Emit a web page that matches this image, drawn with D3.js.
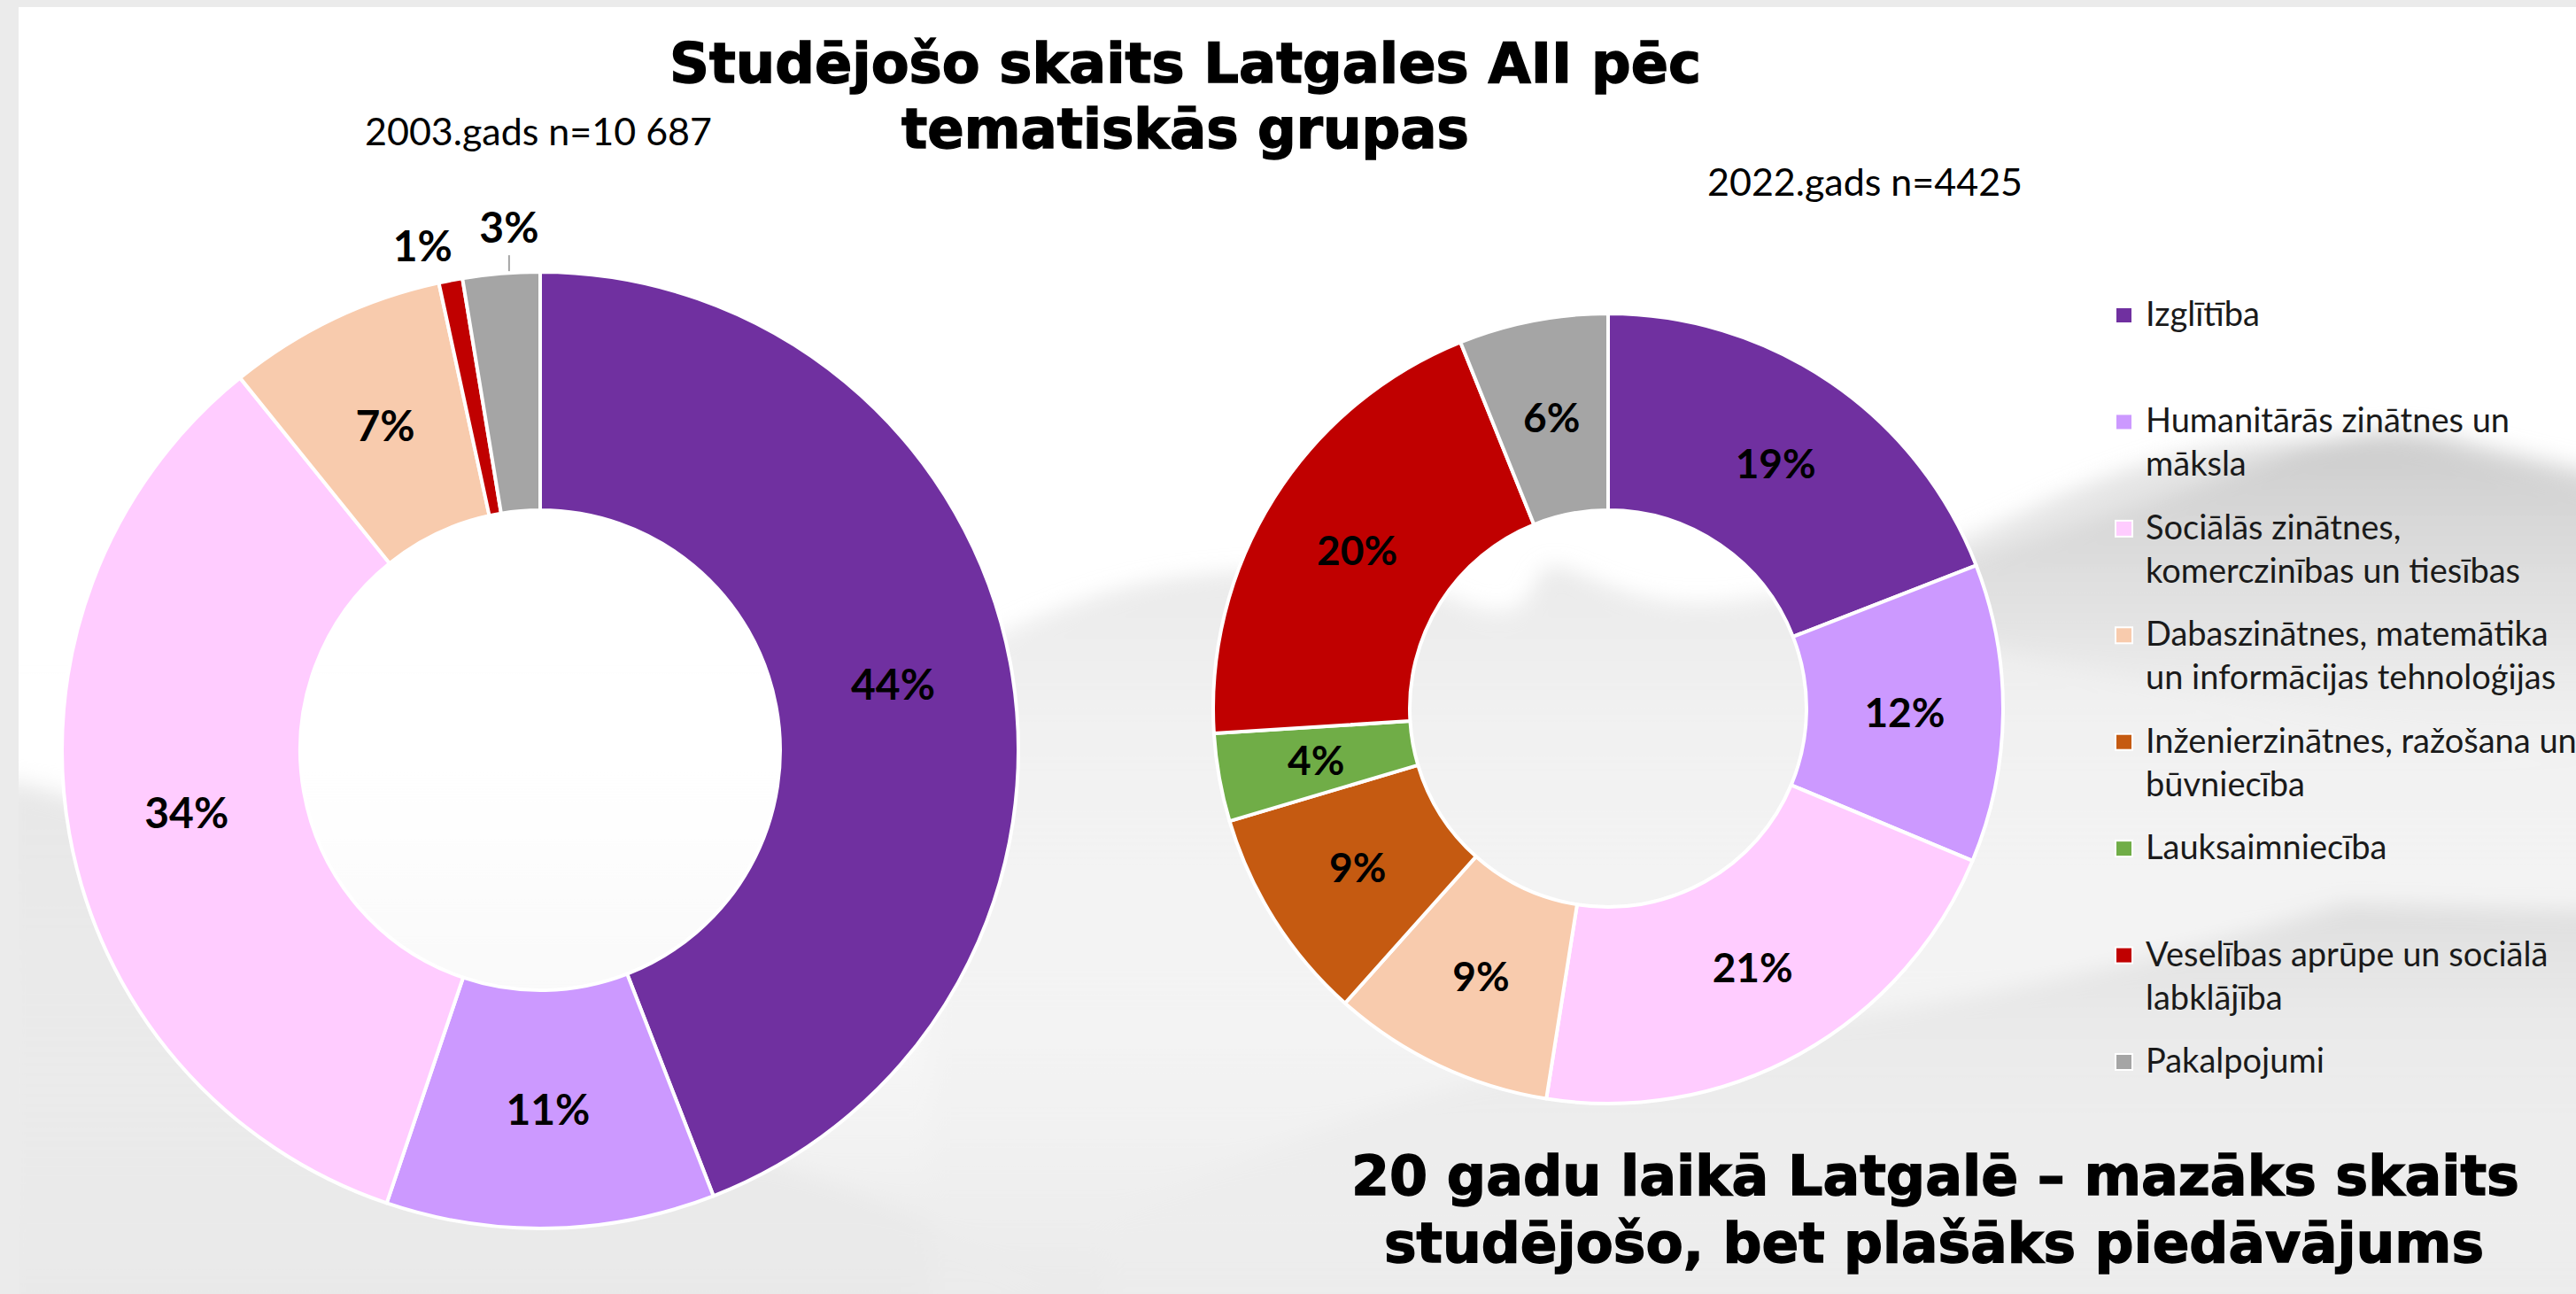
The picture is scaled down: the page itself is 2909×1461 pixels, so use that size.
<!DOCTYPE html>
<html>
<head>
<meta charset="utf-8">
<script src="https://cdn.jsdelivr.net/npm/d3@7"></script>
<style>
  html, body { margin: 0; padding: 0; background: #ebebeb; }
  svg { display: block; }
</style>
</head>
<body>
<div id="chart"></div>
<script>
// categories (legend order = slice order, clockwise from 12 o'clock)
var categories = [
  "Izglītība",
  "Humanitārās zinātnes un māksla",
  "Sociālās zinātnes, komerczinības un tiesības",
  "Dabaszinātnes, matemātika un informācijas tehnoloģijas",
  "Inženierzinātnes, ražošana un būvniecība",
  "Lauksaimniecība",
  "Veselības aprūpe un sociālā labklājība",
  "Pakalpojumi"
];
var legendLines = [
  ["Izglītība"],
  ["Humanitārās zinātnes un", "māksla"],
  ["Sociālās zinātnes,", "komerczinības un tiesības"],
  ["Dabaszinātnes, matemātika", "un informācijas tehnoloģijas"],
  ["Inženierzinātnes, ražošana un", "būvniecība"],
  ["Lauksaimniecība"],
  ["Veselības aprūpe un sociālā", "labklājība"],
  ["Pakalpojumi"]
];
var colors = ["#7030a0", "#cc99ff", "#ffccff", "#f8cbad", "#c55a11", "#70ad47", "#c00000", "#a5a5a5"];

// shares in %
var values2003 = [44.1, 11.1, 34.0, 7.4, 0, 0, 0.8, 2.6];
var values2022 = [19.1, 12.2, 21.2, 9.1, 8.8, 3.6, 19.9, 6.1];

var title = ["Studējošo skaits Latgales AII pēc", "tematiskās grupas"];
var sub2003 = "2003.gads n=10 687";
var sub2022 = "2022.gads n=4425";
var footer = ["20 gadu laikā Latgalē – mazāks skaits", "studējošo, bet plašāks piedāvājums"];

var W = 2909, H = 1461;
var svg = d3.select("#chart").append("svg")
    .attr("width", W)
    .attr("height", H);

var defs = svg.append("defs");
var blur = defs.append("filter").attr("id", "mist")
    .attr("filterUnits", "userSpaceOnUse")
    .attr("x", 0).attr("y", 0).attr("width", W).attr("height", H);
blur.append("feGaussianBlur").attr("stdDeviation", 12);
defs.append("clipPath").attr("id", "slide")
  .append("rect").attr("x", 21).attr("y", 8).attr("width", W - 21).attr("height", H - 8);

function vgrad(id, stops) {
  var g = defs.append("linearGradient").attr("id", id)
      .attr("x1", 0).attr("y1", 0).attr("x2", 0).attr("y2", 1);
  stops.forEach(function(s) {
    g.append("stop").attr("offset", s[0]).attr("stop-color", s[1]).attr("stop-opacity", s[2]);
  });
}
vgrad("gBottom", [[0, "#ffffff", 0], [1, "#e4e4e4", 1]]);
vgrad("gRidge", [[0, "#cfcfcf", 0.6], [0.3, "#e2e2e2", 0.5], [1, "#f2f2f2", 0.25]]);
vgrad("gRidge2", [[0, "#c4c4c4", 0.75], [0.6, "#dadada", 0.45], [1, "#eeeeee", 0]]);
vgrad("gLeft", [[0, "#e0e0e0", 0.75], [1, "#eaeaea", 0.6]]);

// slide background
svg.append("rect").attr("x", 21).attr("y", 8).attr("width", W - 21).attr("height", H - 8)
    .attr("fill", "#ffffff");
var bg = svg.append("g").attr("clip-path", "url(#slide)")
  .append("g").attr("filter", "url(#mist)");
bg.append("rect").attr("x", 0).attr("y", 760).attr("width", W + 40).attr("height", H - 700)
    .attr("fill", "url(#gBottom)");
bg.append("path")
    .attr("d", "M0,880 C120,900 220,960 330,1060 S520,1200 700,1260 S1000,1330 1200,1480 L0,1480 Z")
    .attr("fill", "url(#gLeft)");
bg.append("path")
    .attr("d", "M1050,760 C1150,700 1250,660 1350,650 S1550,640 1650,680 S1720,630 1760,640 S1850,690 1950,680 S2150,640 2280,580 S2550,470 2760,510 L2960,560 L2960,1480 L1050,1480 Z")
    .attr("fill", "url(#gRidge)");
bg.append("path")
    .attr("d", "M2200,640 C2350,590 2450,560 2560,520 S2720,480 2790,500 L2960,540 L2960,860 C2750,830 2450,780 2200,720 Z")
    .attr("fill", "url(#gRidge2)");
bg.append("path")
    .attr("d", "M1250,1380 C1500,1250 1750,1190 2000,1160 S2450,1080 2650,1020 L2960,1030 L2960,1480 L1250,1480 Z")
    .attr("fill", "url(#gRidge)");

var pie = d3.pie().sort(null).value(function(d) { return d; });

function drawDonut(values, cx, cy, R, r, fontSize, nudges) {
  var arc = d3.arc().innerRadius(r).outerRadius(R);
  var g = svg.append("g").attr("transform", "translate(" + cx + "," + cy + ")");
  var arcs = pie(values).map(function(a, i) { a.index = i; return a; })
      .filter(function(a) { return a.value > 0; });
  g.selectAll("path.slice").data(arcs).enter().append("path")
      .attr("class", "slice")
      .attr("d", arc)
      .attr("fill", function(d) { return colors[d.index]; })
      .attr("stroke", "#ffffff")
      .attr("stroke-width", 4)
      .attr("stroke-linejoin", "round");
  arcs.forEach(function(d) {
    var label = Math.round(d.value) + "%";
    var mid = (d.startAngle + d.endAngle) / 2;
    var x, y;
    var n = nudges && nudges[d.index];
    if (!n) {
      var c = arc.centroid(d);
      x = c[0]; y = c[1];
    } else {
      var rr = R + n[2];
      x = Math.sin(mid) * rr + n[0];
      y = -Math.cos(mid) * rr + n[1];
      if (n[3]) {
        var lx = x;
        g.append("line")
            .attr("x1", lx).attr("y1", -Math.sqrt(R * R - lx * lx) - 2)
            .attr("x2", lx).attr("y2", -Math.sqrt(R * R - lx * lx) - 20)
            .attr("stroke", "#a5a5a5").attr("stroke-width", 2);
      }
    }
    g.append("text")
        .attr("x", x).attr("y", y)
        .attr("dy", "0.36em")
        .attr("text-anchor", "middle")
        .attr("font-family", "Lato, 'Open Sans', sans-serif")
        .attr("font-weight", 700)
        .attr("font-size", fontSize)
        .attr("fill", "#000000")
        .text(label);
  });
}

// small slices get their label outside: [dx, dy, extra radius, leader line]
drawDonut(values2003, 610, 847, 540, 271, 48, { 6: [-24, 0, 40, false], 7: [14, 10, 62, true] });
drawDonut(values2022, 1816, 800, 446, 224, 46, null);

// titles
var titleFont = "Verdana, 'DejaVu Sans', sans-serif";
function bigText(txt, x1, x2, baseline) {
  svg.append("text")
      .attr("x", x1).attr("y", baseline)
      .attr("textLength", x2 - x1)
      .attr("lengthAdjust", "spacingAndGlyphs")
      .attr("font-family", titleFont)
      .attr("font-weight", 700)
      .attr("font-size", 62)
      .attr("fill", "#000000")
      .attr("stroke", "#000000")
      .attr("stroke-width", 1.4)
      .text(txt);
}
bigText(title[0], 756, 1921, 93);
bigText(title[1], 1018, 1659, 167);
bigText(footer[0], 1526, 2845, 1349);
bigText(footer[1], 1563, 2805, 1425);

svg.append("text").attr("x", 412).attr("y", 164)
    .attr("font-family", "Lato, sans-serif").attr("font-size", 43).attr("fill", "#000")
    .text(sub2003);
svg.append("text").attr("x", 1928).attr("y", 221)
    .attr("font-family", "Lato, sans-serif").attr("font-size", 43).attr("fill", "#000")
    .text(sub2022);

// legend
var ly = d3.scaleLinear().domain([0, categories.length - 1]).range([356, 1199]);
var legend = svg.append("g");
categories.forEach(function(c, i) {
  var y = ly(i);
  legend.append("rect")
      .attr("x", 2389).attr("y", y - 9).attr("width", 19).attr("height", 18)
      .attr("fill", colors[i]).attr("stroke", "#ffffff").attr("stroke-width", 2);
  var t = legend.append("text")
      .attr("x", 2423).attr("y", y + 12)
      .attr("font-family", "Lato, sans-serif")
      .attr("font-size", 38)
      .attr("fill", "#1a1a1a");
  legendLines[i].forEach(function(line, j) {
    t.append("tspan").attr("x", 2423).attr("dy", j === 0 ? 0 : 49).text(line);
  });
});
</script>
</body>
</html>
